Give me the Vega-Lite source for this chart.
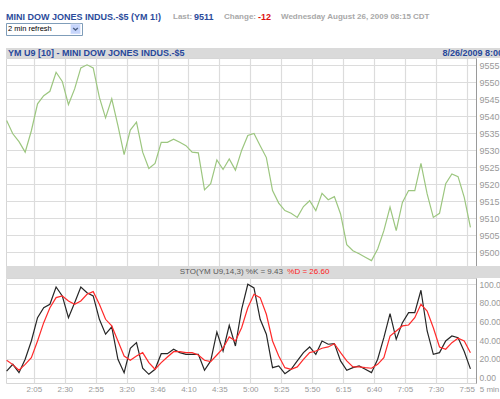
{
  "$schema": "https://vega.github.io/schema/vega-lite/v6.json",
  "padding": {"left": 3, "top": 11, "right": 0, "bottom": 0},
  "background": "white",
  "config": {
    "view": {"stroke": null},
    "font": "Liberation Sans",
    "text": {"font": "Liberation Sans"},
    "axis": {"gridColor": "#dcdcdc", "gridWidth": 1.2, "labelFont": "Liberation Sans", "labelColor": "#999999", "ticks": false, "tickSize": 0, "domain": false, "labelFlush": false, "labelOverlap": false}
  },
  "datasets": {
    "bars": [
      {"t":103,"price":9538.7,"k":7,"d":18.6},
      {"t":108,"price":9534.8,"k":14.3,"d":14.0},
      {"t":113,"price":9532.5,"k":5.4,"d":7.9},
      {"t":118,"price":9529.4,"k":19.7,"d":14.3},
      {"t":123,"price":9535.7,"k":39.3,"d":21.4},
      {"t":128,"price":9543.6,"k":64.2,"d":39.3},
      {"t":133,"price":9546.0,"k":74.9,"d":58.9},
      {"t":138,"price":9547.3,"k":78.6,"d":74.9},
      {"t":143,"price":9552.9,"k":97.1,"d":85.7},
      {"t":148,"price":9550.2,"k":87.5,"d":87.5},
      {"t":153,"price":9543.4,"k":64.2,"d":82.1},
      {"t":158,"price":9548.0,"k":80.3,"d":78.6},
      {"t":163,"price":9554.2,"k":97.1,"d":82.1},
      {"t":168,"price":9555.1,"k":91.0,"d":89.3},
      {"t":173,"price":9554.2,"k":87.5,"d":92.1},
      {"t":178,"price":9545.5,"k":62.5,"d":78.6},
      {"t":183,"price":9539.5,"k":46.5,"d":62.5},
      {"t":188,"price":9545.1,"k":54.3,"d":55.4},
      {"t":193,"price":9537.2,"k":19.7,"d":39.3},
      {"t":198,"price":9528.7,"k":5.4,"d":23.2},
      {"t":203,"price":9535.9,"k":31.5,"d":18.6},
      {"t":208,"price":9538.2,"k":37.5,"d":23.2},
      {"t":213,"price":9529.4,"k":10.1,"d":26.8},
      {"t":218,"price":9524.6,"k":3.6,"d":16.1},
      {"t":223,"price":9526.1,"k":9.0,"d":9.0},
      {"t":228,"price":9532.3,"k":25.7,"d":16.1},
      {"t":233,"price":9532.3,"k":25.7,"d":22.2},
      {"t":238,"price":9533.2,"k":30.4,"d":27.8},
      {"t":243,"price":9532.3,"k":26.8,"d":27.8},
      {"t":248,"price":9531.3,"k":25.0,"d":26.8},
      {"t":253,"price":9529.4,"k":25.0,"d":26.8},
      {"t":258,"price":9529.2,"k":25.0,"d":24.3},
      {"t":263,"price":9518.3,"k":7.9,"d":18.6},
      {"t":268,"price":9520.1,"k":17.9,"d":17.1},
      {"t":273,"price":9527.1,"k":48.9,"d":24.3},
      {"t":278,"price":9524.3,"k":28.6,"d":31.5},
      {"t":283,"price":9527.4,"k":56.1,"d":43.6},
      {"t":288,"price":9524.1,"k":33.9,"d":39.3},
      {"t":293,"price":9529.9,"k":73.2,"d":53.5},
      {"t":298,"price":9534.3,"k":100,"d":74.9},
      {"t":303,"price":9534.9,"k":96,"d":89.3},
      {"t":308,"price":9531.3,"k":62.5,"d":85.7},
      {"t":313,"price":9527.8,"k":46.5,"d":67.9},
      {"t":318,"price":9518.1,"k":10.7,"d":39.3},
      {"t":323,"price":9514.4,"k":12.5,"d":23.2},
      {"t":328,"price":9512.2,"k":4.3,"d":10.7},
      {"t":333,"price":9511.4,"k":9.0,"d":9.0},
      {"t":338,"price":9510.2,"k":17.9,"d":11.5},
      {"t":343,"price":9513.4,"k":26.8,"d":19.7},
      {"t":348,"price":9515.1,"k":32.9,"d":26.8},
      {"t":353,"price":9512.2,"k":25.0,"d":28.6},
      {"t":358,"price":9517.3,"k":39.3,"d":31.5},
      {"t":363,"price":9515.4,"k":35.8,"d":32.9},
      {"t":368,"price":9516.3,"k":36.4,"d":36.4},
      {"t":373,"price":9511.2,"k":17.9,"d":26.8},
      {"t":378,"price":9502.2,"k":7.9,"d":17.9},
      {"t":383,"price":9500.4,"k":10.7,"d":11.5},
      {"t":388,"price":9499.5,"k":12.5,"d":11.5},
      {"t":393,"price":9498.5,"k":9.0,"d":10.7},
      {"t":398,"price":9497.5,"k":5.4,"d":10.1},
      {"t":403,"price":9500.9,"k":19.7,"d":14.3},
      {"t":408,"price":9506.3,"k":42.8,"d":21.4},
      {"t":413,"price":9513.2,"k":68.5,"d":44.6},
      {"t":418,"price":9506.3,"k":41.1,"d":50.0},
      {"t":423,"price":9514.6,"k":58.9,"d":55.4},
      {"t":428,"price":9518.1,"k":69.6,"d":56.4},
      {"t":433,"price":9518.1,"k":69.6,"d":64.2},
      {"t":438,"price":9526.1,"k":93.6,"d":78.6},
      {"t":443,"price":9517.1,"k":50.0,"d":71.4},
      {"t":448,"price":9510.2,"k":25.0,"d":53.5},
      {"t":453,"price":9511.4,"k":26.8,"d":32.9},
      {"t":458,"price":9520.1,"k":39.3,"d":30.4},
      {"t":463,"price":9523.0,"k":44.6,"d":37.5},
      {"t":468,"price":9522.2,"k":42.8,"d":42.2},
      {"t":473,"price":9516.1,"k":28.0,"d":39.3},
      {"t":478,"price":9507.3,"k":9.43,"d":26.6}
    ]
  },
  "vconcat": [
    {
      "vconcat": [
        {
          "width": 494,
          "height": 12,
          "layer": [
            {"data": {"values": [{"label": "MINI DOW JONES INDUS.-$5 (YM 1!)"}]}, "mark": {"type": "text", "align": "left", "baseline": "middle", "fontSize": 9, "fontWeight": "bold", "color": "#2b4b9b"}, "encoding": {"x": {"datum": 0, "type": "quantitative", "scale": {"domain": [0, 494], "nice": false, "zero": false}, "axis": null}, "text": {"field": "label"}}},
            {"data": {"values": [{"label": "Last:"}]}, "mark": {"type": "text", "align": "left", "baseline": "middle", "fontSize": 8, "fontWeight": "bold", "color": "#a8a8a8"}, "encoding": {"x": {"datum": 167, "type": "quantitative"}, "text": {"field": "label"}}},
            {"data": {"values": [{"label": "9511"}]}, "mark": {"type": "text", "align": "left", "baseline": "middle", "fontSize": 9, "fontWeight": "bold", "color": "#2b4b9b"}, "encoding": {"x": {"datum": 188, "type": "quantitative"}, "text": {"field": "label"}}},
            {"data": {"values": [{"label": "Change:"}]}, "mark": {"type": "text", "align": "left", "baseline": "middle", "fontSize": 8, "fontWeight": "bold", "color": "#a8a8a8"}, "encoding": {"x": {"datum": 218, "type": "quantitative"}, "text": {"field": "label"}}},
            {"data": {"values": [{"label": "-12"}]}, "mark": {"type": "text", "align": "left", "baseline": "middle", "fontSize": 9, "fontWeight": "bold", "color": "#dd1111"}, "encoding": {"x": {"datum": 252, "type": "quantitative"}, "text": {"field": "label"}}},
            {"data": {"values": [{"label": "Wednesday August 26, 2009 08:15 CDT"}]}, "mark": {"type": "text", "align": "left", "baseline": "middle", "fontSize": 8, "fontWeight": "bold", "color": "#a8a8a8"}, "encoding": {"x": {"datum": 275, "type": "quantitative"}, "text": {"field": "label"}}}
          ]
        },
        {
          "width": 76,
          "height": 12,
          "view": {"stroke": "#7f9db9", "fill": "white"},
          "layer": [
            {"data": {"values": [{"label": "2 min refresh"}]}, "mark": {"type": "text", "align": "left", "baseline": "middle", "fontSize": 7.5, "color": "#000000"}, "encoding": {"x": {"datum": 2, "type": "quantitative", "scale": {"domain": [0, 76], "nice": false, "zero": false}, "axis": null}, "text": {"field": "label"}}},
            {"data": {"values": [{"label": "button"}]}, "mark": {"type": "point", "shape": "square", "filled": true, "size": 100, "fill": "#c6d5fb", "stroke": "#eef2fd", "strokeWidth": 0.6, "opacity": 1}, "encoding": {"x": {"datum": 69.5, "type": "quantitative"}}},
            {"data": {"values": [{"label": "arrow"}]}, "mark": {"type": "point", "shape": "M-1,-0.45L0,0.45L1,-0.45", "filled": false, "size": 22, "stroke": "#4d6185", "strokeWidth": 1.4, "opacity": 1}, "encoding": {"x": {"datum": 69.5, "type": "quantitative"}}}
          ]
        }
      ],
      "spacing": 0,
      "bounds": "flush"
    },
    {
      "vconcat": [
        {
          "width": 497,
          "height": 10,
          "view": {"fill": "#dadada", "stroke": null},
          "layer": [
            {"data": {"values": [{"label": "YM U9 [10] - MINI DOW JONES INDUS.-$5"}]}, "mark": {"type": "text", "align": "left", "baseline": "middle", "fontSize": 9, "fontWeight": "bold", "color": "#27479a"}, "encoding": {"x": {"datum": 2, "type": "quantitative", "scale": {"domain": [0, 497], "nice": false, "zero": false}, "axis": null}, "text": {"field": "label"}}},
            {"data": {"values": [{"label": "8/26/2009 8:00"}]}, "mark": {"type": "text", "align": "right", "baseline": "middle", "fontSize": 9, "fontWeight": "bold", "color": "#27479a"}, "encoding": {"x": {"datum": 497, "type": "quantitative"}, "text": {"field": "label"}}}
          ]
        },
        {
          "width": 470,
          "height": 208,
          "view": {"stroke": "#d6d6d6"},
          "data": {"name": "bars"},
          "mark": {"type": "line", "color": "#9cc67f", "strokeWidth": 1.2},
          "encoding": {
            "x": {"field": "t", "type": "quantitative", "scale": {"domain": [102.5, 482.5], "nice": false, "zero": false}, "axis": {"values": [125,150,175,200,225,250,275,300,325,350,375,400,425,450,475], "labels": false, "grid": true, "title": null}},
            "y": {"field": "price", "type": "quantitative", "scale": {"domain": [9495.9, 9557.1], "nice": false, "zero": false}, "axis": {"orient": "right", "values": [9500,9505,9510,9515,9520,9525,9530,9535,9540,9545,9550,9555], "format": "d", "grid": true, "domain": true, "domainColor": "#9a9a9a", "labelPadding": 3, "labelFontSize": 9, "labelOverlap": false, "title": null}}
          }
        },
        {
          "width": 497,
          "height": 12,
          "view": {"fill": "#dadada", "stroke": null},
          "layer": [
            {"data": {"values": [{"label": "STO(YM U9,14,3) %K = 9.43"}]}, "mark": {"type": "text", "align": "left", "baseline": "middle", "fontSize": 8, "color": "#595959"}, "encoding": {"x": {"datum": 173.7, "type": "quantitative", "scale": {"domain": [0, 497], "nice": false, "zero": false}, "axis": null}, "text": {"field": "label"}}},
            {"data": {"values": [{"label": "%D = 26.60"}]}, "mark": {"type": "text", "align": "left", "baseline": "middle", "fontSize": 8, "color": "#ff2020"}, "encoding": {"x": {"datum": 281.3, "type": "quantitative"}, "text": {"field": "label"}}}
          ]
        },
        {
          "width": 470,
          "height": 105,
          "view": {"stroke": "#d6d6d6"},
          "data": {"name": "bars"},
          "encoding": {
            "x": {"field": "t", "type": "quantitative", "scale": {"domain": [102.5, 482.5], "nice": false, "zero": false}, "axis": {"values": [125,150,175,200,225,250,275,300,325,350,375,400,425,450,475], "grid": true, "labelFontSize": 8, "labelPadding": 2, "labelOverlap": false, "labelExpr": "datum.value == 225 ? '3:46' : floor(datum.value / 60) + ':' + (datum.value % 60 < 10 ? '0' : '') + (datum.value % 60)", "title": "5 min", "titleX": 483, "titleY": 2, "titleAlign": "center", "titleBaseline": "top", "titleFontSize": 8, "titleFontWeight": "normal", "titleColor": "#999999", "titleFont": "Liberation Sans"}}
          },
          "layer": [
            {"mark": {"type": "line", "color": "#262626", "strokeWidth": 1.2}, "encoding": {"y": {"field": "k", "type": "quantitative", "scale": {"domain": [-5.7, 106.7], "nice": false, "zero": false}, "axis": {"orient": "right", "values": [0,20,40,60,80,100], "labelExpr": "datum.value == 100 ? '100.0' : format(datum.value, '.2f')", "grid": true, "domain": true, "domainColor": "#9a9a9a", "labelPadding": 3, "labelFontSize": 8.5, "labelOverlap": false, "labelBound": false, "title": null}}}},
            {"mark": {"type": "line", "color": "#ff2a2a", "strokeWidth": 1.2}, "encoding": {"y": {"field": "d", "type": "quantitative", "scale": {"domain": [-5.7, 106.7], "nice": false, "zero": false}, "axis": {"orient": "right", "values": [0,20,40,60,80,100], "labelExpr": "datum.value == 100 ? '100.0' : format(datum.value, '.2f')", "grid": true, "domain": true, "domainColor": "#9a9a9a", "labelPadding": 3, "labelFontSize": 8.5, "labelOverlap": false, "labelBound": false, "title": null}}}}
          ]
        }
      ],
      "spacing": 0,
      "bounds": "flush"
    }
  ],
  "spacing": 12,
  "bounds": "full"
}
